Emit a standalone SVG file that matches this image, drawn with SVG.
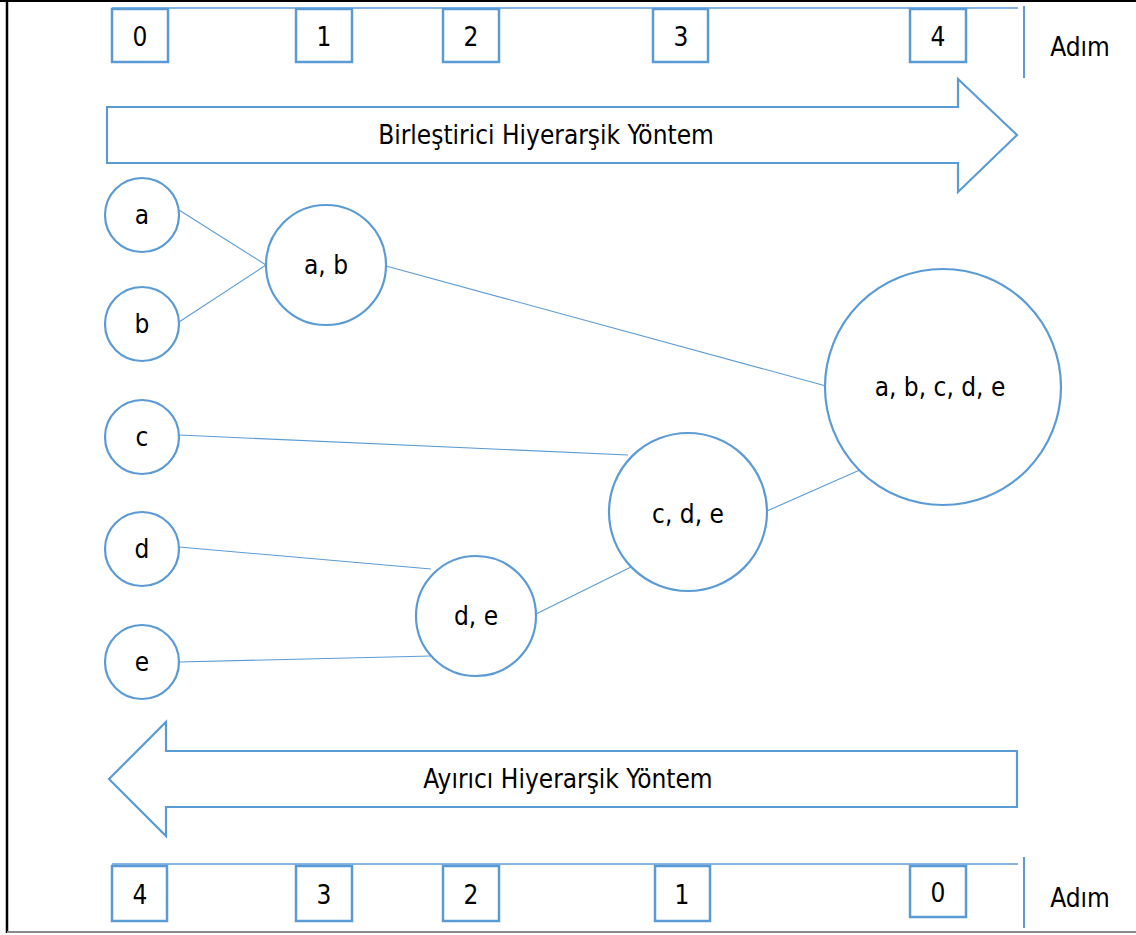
<svg xmlns="http://www.w3.org/2000/svg" width="1136" height="935" viewBox="0 0 1136 935">
  <style>
    text { font-family: "DejaVu Sans Condensed", "DejaVu Sans", sans-serif; font-stretch: condensed; font-size: 26px; fill: #000; text-anchor: middle; }
    .step { fill: #fff; stroke: #5B9BD5; stroke-width: 2.5; }
    .rule { stroke: #5B9BD5; stroke-width: 1.3; fill: none; }
    .tick { stroke: #5B9BD5; stroke-width: 2; fill: none; }
    .band { fill: #fff; stroke: #5B9BD5; stroke-width: 2.2; stroke-linejoin: miter; }
    .node { fill: #fff; stroke: #5B9BD5; stroke-width: 2.2; }
    .edge { stroke: #5B9BD5; stroke-width: 1.1; fill: none; }
  </style>

  <rect x="0" y="0" width="1136" height="935" fill="#fff"/>

  <!-- outer frame -->
  <g id="frame">
    <line x1="0" y1="1" x2="1136" y2="1" stroke="#000" stroke-width="2"/>
    <line x1="7" y1="0" x2="7" y2="933" stroke="#000" stroke-width="2.5"/>
    <line x1="7" y1="932" x2="1136" y2="932" stroke="#8a8a8a" stroke-width="2"/>
  </g>

  <!-- top step scale -->
  <g id="top-scale">
    <line class="rule" x1="112" y1="8" x2="1018" y2="8"/>
    <line class="tick" x1="1024" y1="6" x2="1024" y2="78"/>
    <rect class="step" x="112" y="9" width="56" height="53"/>
    <text x="140" y="46">0</text>
    <rect class="step" x="296" y="9" width="56" height="53"/>
    <text x="324" y="46">1</text>
    <rect class="step" x="443" y="9" width="56" height="53"/>
    <text x="471" y="46">2</text>
    <rect class="step" x="653" y="9" width="55" height="53"/>
    <text x="681" y="46">3</text>
    <rect class="step" x="910" y="9" width="56" height="53"/>
    <text x="938" y="46">4</text>
    <text x="1080" y="56">Adım</text>
  </g>

  <!-- agglomerative direction arrow -->
  <g id="arrow-right">
    <polygon class="band" points="107,107 958,107 958,79 1017,135 958,192 958,163 107,163"/>
    <text x="546" y="144">Birleştirici Hiyerarşik Yöntem</text>
  </g>

  <!-- connectors -->
  <g id="edges">
    <line class="edge" x1="179" y1="210" x2="266" y2="265"/>
    <line class="edge" x1="179" y1="322" x2="266" y2="265"/>
    <line class="edge" x1="386" y1="266" x2="826" y2="386"/>
    <line class="edge" x1="179" y1="435" x2="628" y2="455"/>
    <line class="edge" x1="179" y1="547" x2="431" y2="569"/>
    <line class="edge" x1="179" y1="662" x2="431" y2="656"/>
    <line class="edge" x1="536" y1="614" x2="631" y2="567"/>
    <line class="edge" x1="767" y1="511" x2="862" y2="469"/>
  </g>

  <!-- nodes -->
  <g id="node-a">
    <circle class="node" cx="142" cy="215" r="37"/>
    <text x="142" y="224">a</text>
  </g>
  <g id="node-b">
    <circle class="node" cx="142" cy="324" r="37"/>
    <text x="142" y="333">b</text>
  </g>
  <g id="node-c">
    <circle class="node" cx="142" cy="437" r="37"/>
    <text x="142" y="446">c</text>
  </g>
  <g id="node-d">
    <circle class="node" cx="142" cy="549" r="37"/>
    <text x="142" y="558">d</text>
  </g>
  <g id="node-e">
    <circle class="node" cx="142" cy="662" r="37"/>
    <text x="142" y="671">e</text>
  </g>
  <g id="node-ab">
    <circle class="node" cx="326" cy="265" r="60"/>
    <text x="326" y="274">a, b</text>
  </g>
  <g id="node-de">
    <circle class="node" cx="476" cy="616" r="60"/>
    <text x="476" y="625">d, e</text>
  </g>
  <g id="node-cde">
    <circle class="node" cx="688" cy="512" r="79"/>
    <text x="688" y="523">c, d, e</text>
  </g>
  <g id="node-abcde">
    <circle class="node" cx="943" cy="387" r="118"/>
    <text x="940" y="396">a, b, c, d, e</text>
  </g>

  <!-- divisive direction arrow -->
  <g id="arrow-left">
    <polygon class="band" points="1017,751 166,751 166,722 109,779 166,836 166,807 1017,807"/>
    <text x="568" y="788">Ayırıcı Hiyerarşik Yöntem</text>
  </g>

  <!-- bottom step scale -->
  <g id="bottom-scale">
    <line class="rule" x1="112" y1="864" x2="1018" y2="864"/>
    <line class="tick" x1="1024" y1="857" x2="1024" y2="928"/>
    <rect class="step" x="112" y="866" width="55" height="55"/>
    <text x="140" y="904">4</text>
    <rect class="step" x="296" y="866" width="56" height="55"/>
    <text x="324" y="904">3</text>
    <rect class="step" x="443" y="866" width="56" height="55"/>
    <text x="471" y="904">2</text>
    <rect class="step" x="655" y="866" width="55" height="55"/>
    <text x="682" y="904">1</text>
    <rect class="step" x="910" y="866" width="56" height="51"/>
    <text x="938" y="902">0</text>
    <text x="1080" y="907">Adım</text>
  </g>
</svg>
